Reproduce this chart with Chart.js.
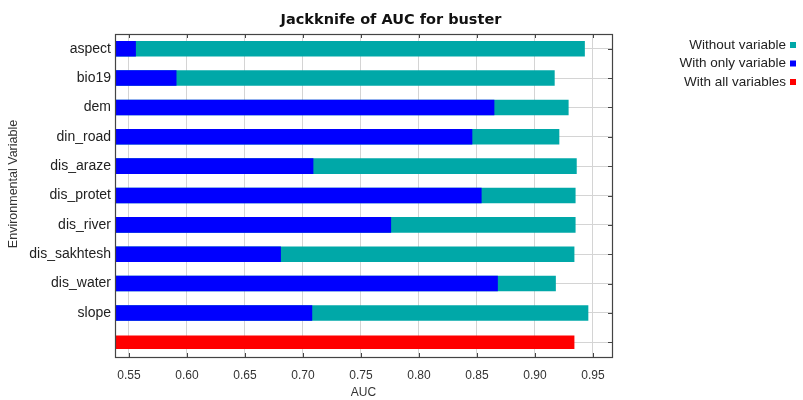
<!DOCTYPE html>
<html>
<head>
<meta charset="utf-8">
<script src="https://cdn.jsdelivr.net/npm/chart.js@4.4.0/dist/chart.umd.min.js"></script>
<style>
html,body{margin:0;padding:0;background:#fff;}
#wrap{width:803px;height:400px;position:relative;}
</style>
</head>
<body>
<div id="wrap"><canvas id="c"></canvas></div>
<script>
const chartTitle = 'Jackknife of AUC for buster';
const yTitle = 'Environmental Variable';
const categories = ['aspect','bio19','dem','din_road','dis_araze','dis_protet','dis_river','dis_sakhtesh','dis_water','slope',''];
const withoutVariable = [0.943,0.917,0.929,0.921,0.936,0.935,0.935,0.934,0.918,0.946,null];
const withOnlyVariable = [0.556,0.591,0.865,0.846,0.709,0.854,0.776,0.681,0.868,0.708,null];
const withAllVariables = [null,null,null,null,null,null,null,null,null,null,0.934];
const xTicks = [0.55,0.60,0.65,0.70,0.75,0.80,0.85,0.90,0.95];
const legendLabels = ['Without variable','With only variable','With all variables'];
const colors = {teal:'#00A8A8', blue:'#0000FF', red:'#FF0000'};

const FONT = "Arial, 'Liberation Sans', sans-serif";

const decor = {
  id: 'decor',
  afterDraw(chart) {
    const ctx = chart.ctx;
    const a = chart.chartArea;
    const xs = chart.scales.x, ys = chart.scales.y;
    ctx.save();
    // frame
    ctx.strokeStyle = '#444';
    ctx.lineWidth = 1.2;
    ctx.strokeRect(Math.round(a.left)+0.5, Math.round(a.top)+0.5, Math.round(a.right-a.left), Math.round(a.bottom-a.top));
    // tick marks
    ctx.beginPath();
    ctx.lineWidth = 1;
    xTicks.forEach(v => {
      const px = Math.round(xs.getPixelForValue(v)) + 0.5;
      ctx.moveTo(px, a.top); ctx.lineTo(px, a.top + 4);
      ctx.moveTo(px, a.bottom); ctx.lineTo(px, a.bottom - 4);
    });
    categories.forEach((c, i) => {
      const py = Math.round(ys.getPixelForValue(i)) + 0.5;
      ctx.moveTo(a.right, py); ctx.lineTo(a.right - 4, py);
    });
    ctx.stroke();
    // title
    ctx.fillStyle = '#111';
    ctx.font = "bold 14.5px 'DejaVu Sans', Verdana, sans-serif";
    ctx.textAlign = 'center';
    ctx.textBaseline = 'middle';
    ctx.fillText(chartTitle, 391, 20);
    // y axis title
    ctx.save();
    ctx.translate(14, 184);
    ctx.rotate(-Math.PI / 2);
    ctx.fillStyle = '#333';
    ctx.font = "12.5px " + FONT;
    ctx.fillText(yTitle, 0, 0);
    ctx.restore();
    // legend
    const legColors = [colors.teal, colors.blue, colors.red];
    ctx.font = "13.5px " + FONT;
    ctx.textAlign = 'right';
    legendLabels.forEach((t, i) => {
      const y = 45 + i * 18.5;
      ctx.fillStyle = '#222';
      ctx.fillText(t, 786, y);
      ctx.fillStyle = legColors[i];
      ctx.fillRect(790, y - 3, 6, 6);
    });
    ctx.restore();
  }
};

new Chart(document.getElementById('c'), {
  type: 'bar',
  data: {
    labels: categories,
    datasets: [
      {label: legendLabels[1], data: withOnlyVariable, backgroundColor: colors.blue, grouped: false, barPercentage: 0.53, categoryPercentage: 1},
      {label: legendLabels[0], data: withoutVariable, backgroundColor: colors.teal, grouped: false, barPercentage: 0.53, categoryPercentage: 1},
      {label: legendLabels[2], data: withAllVariables, backgroundColor: colors.red, grouped: false, barPercentage: 0.46, categoryPercentage: 1}
    ]
  },
  options: {
    indexAxis: 'y',
    responsive: true,
    maintainAspectRatio: false,
    animation: false,
    layout: {padding: {top: 34, right: 191, left: 0, bottom: 0}},
    plugins: {legend: {display: false}, title: {display: false}, tooltip: {enabled: false}},
    scales: {
      x: {
        type: 'linear',
        min: 0.538,
        max: 0.9664,
        afterBuildTicks: s => { s.ticks = xTicks.map(v => ({value: v})); },
        afterFit: s => { s.height = 43; },
        grid: {color: '#d4d4d4', drawTicks: false},
        border: {display: false},
        ticks: {padding: 11, color: '#333', font: {family: FONT, size: 12}, callback: v => Number(v).toFixed(2)},
        title: {display: true, text: 'AUC', color: '#333', font: {family: FONT, size: 12}, padding: {top: 2, bottom: 0}}
      },
      y: {
        type: 'category',
        offset: true,
        afterFit: s => { s.width = 115; },
        grid: {color: '#d4d4d4', drawTicks: false, offset: false},
        border: {display: false},
        ticks: {padding: 4, color: '#222', font: {family: FONT, size: 14}}
      }
    }
  },
  plugins: [decor]
});
</script>
</body>
</html>
